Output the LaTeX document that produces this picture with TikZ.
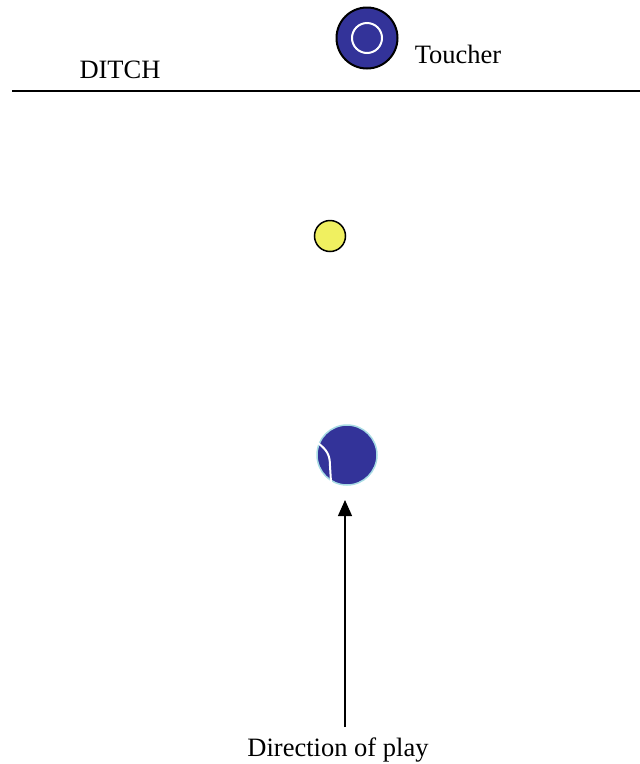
\documentclass[tikz,border=0pt]{standalone}
\usepackage{fontspec}
\setmainfont{Liberation Serif}
\usetikzlibrary{arrows.meta}
\definecolor{bowlblue}{HTML}{333399}
\definecolor{jackyellow}{HTML}{F0F060}
\definecolor{rimcyan}{HTML}{A8DCE4}
\tikzset{
  lbl/.style={font=\fontsize{26.5}{30}\selectfont, inner sep=0pt},
}
\begin{document}
\begin{tikzpicture}[x=1pt,y=-1pt]
\useasboundingbox (0,0) rectangle (640,764);
% ditch line
\coordinate (dl) at (12,91);
\coordinate (dr) at (640,91);
\draw[line width=1.5pt] (dl) -- (dr);
\node[lbl] (ditch) at (120,70) {DITCH};
% toucher bowl
\node[circle, draw=black, line width=2pt, fill=bowlblue, minimum size=61pt, inner sep=0pt] (toucher) at (367,38) {};
\draw[white, line width=2pt] (toucher.center) circle[radius=15];
\node[lbl] (toucherlbl) at (458,54) {Toucher};
% jack
\node[circle, draw=black, line width=1.5pt, fill=jackyellow, minimum size=31pt, inner sep=0pt] (jack) at (330,236) {};
% bowl
\node[circle, draw=rimcyan, line width=1.5pt, fill=bowlblue, minimum size=60pt, inner sep=0pt] (bowl) at (347,455) {};
\draw[white, line width=2pt] (318,443) .. controls (327,450) and (330,455) .. (330,466) -- (331,482);
% arrow
\coordinate (arrstart) at (345,727);
\draw[line width=1.2pt, -{Triangle[length=16pt,width=14pt]}] (arrstart) -- (345,500);
\node[lbl] (dir) at (338,750) {Direction of play};
\end{tikzpicture}
\end{document}
